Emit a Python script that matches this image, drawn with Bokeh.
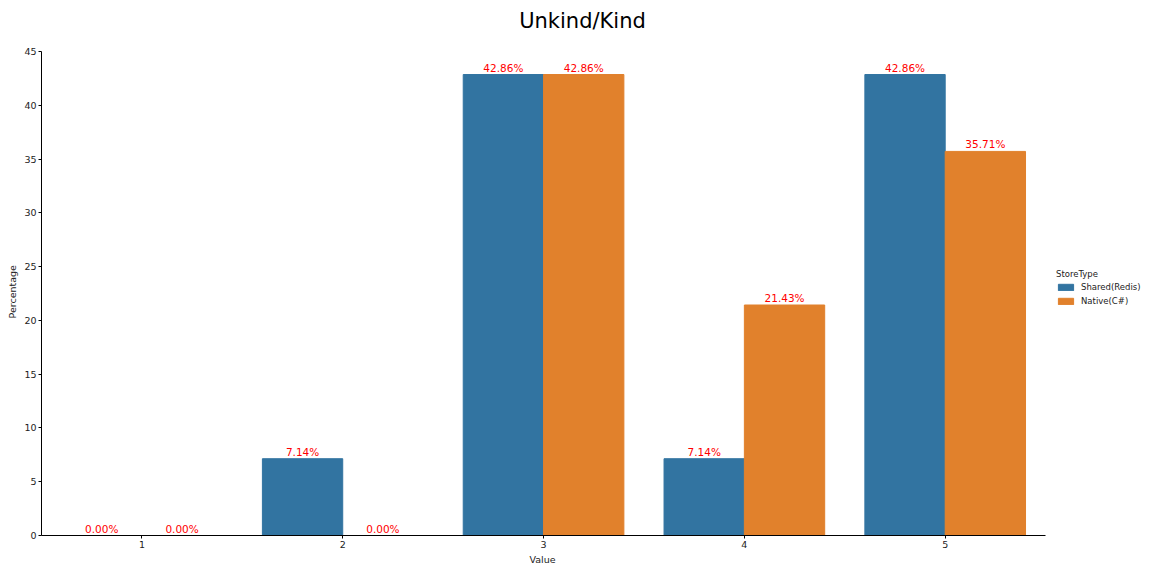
from bokeh.plotting import figure
from bokeh.models import (ColumnDataSource, Range1d, Legend, LegendItem,
                          FixedTicker, Label, Title)
from bokeh.core.properties import value
from bokeh.transform import dodge
from bokeh.embed import file_html
from bokeh.resources import INLINE

# Category values and percentages per store type
values = ["1", "2", "3", "4", "5"]
shared_redis = [0.00, 7.14, 42.86, 7.14, 42.86]
native_cs = [0.00, 0.00, 42.86, 21.43, 35.71]
y_ticks = [0, 5, 10, 15, 20, 25, 30, 35, 40, 45]

BLUE = "#3274a1"
ORANGE = "#e1812c"
FONT = "DejaVu Sans"
TEXT = "#222222"

# canvas layout: the plotting frame runs to the top and right edges so that
# the title and the legend (both annotations) can be drawn inside it; the
# visible axes are limited with `bounds`.
W, H = 1156, 565
LEFT, BOTTOM = 40, 30
AXES_W, AXES_H = 1005, 484           # pixel size of the drawn axes box
frame_w, frame_h = W - LEFT, H - BOTTOM
n = len(values)
x_end = -0.5 + n * frame_w / AXES_W
y_end = y_ticks[-1] * frame_h / AXES_H

src = ColumnDataSource(dict(
    pos=list(range(n)),
    shared=shared_redis,
    native=native_cs,
    shared_lbl=[f"{v:.2f}%" for v in shared_redis],
    native_lbl=[f"{v:.2f}%" for v in native_cs],
))

p = figure(
    width=W, height=H,
    x_range=Range1d(-0.5, x_end),
    y_range=Range1d(0, y_end),
    output_backend="svg", toolbar_location=None,
    min_border_left=LEFT, min_border_right=0,
    min_border_top=0, min_border_bottom=BOTTOM,
    background_fill_color="white", border_fill_color="white",
    outline_line_color=None,
)

r1 = p.vbar(x=dodge("pos", -0.2), top="shared", width=0.4,
            source=src, fill_color=BLUE, line_color=BLUE, line_width=1)
r2 = p.vbar(x=dodge("pos", 0.2), top="native", width=0.4,
            source=src, fill_color=ORANGE, line_color=ORANGE, line_width=1)

# value labels on top of each bar
for col, off in (("shared", -0.2), ("native", 0.2)):
    p.text(x=dodge("pos", off), y=col, text=f"{col}_lbl",
           source=src, text_color="red", text_font=value(FONT),
           text_font_size="10.5px", text_align="center",
           text_baseline="bottom", y_offset=-1)

p.xgrid.visible = False
p.ygrid.visible = False

for ax in (p.xaxis[0], p.yaxis[0]):
    ax.axis_line_color = "black"
    ax.axis_line_width = 1
    ax.major_tick_line_color = "black"
    ax.major_tick_in = 0
    ax.major_tick_out = 3
    ax.minor_tick_line_color = None
    ax.major_label_text_font = FONT
    ax.major_label_text_font_size = "9.5px"
    ax.major_label_text_color = TEXT
    ax.major_label_standoff = 2

p.xaxis.ticker = FixedTicker(ticks=list(range(n)))
p.xaxis.major_label_overrides = {i: v for i, v in enumerate(values)}
p.xaxis.bounds = (-0.5, n - 0.5)
p.yaxis.ticker = FixedTicker(ticks=y_ticks)
p.yaxis.bounds = (y_ticks[0], y_ticks[-1])

# axis titles, centred on the drawn axes rather than on the whole frame
p.add_layout(Title(text="Value", align="left", offset=488, standoff=2,
                   text_font=FONT, text_font_size="9.5px",
                   text_font_style="normal", text_color=TEXT), "below")
p.add_layout(Title(text="Percentage", align="left", offset=217, standoff=8,
                   text_font=FONT, text_font_size="9.5px",
                   text_font_style="normal", text_color=TEXT), "left")

p.add_layout(Label(x=541, y=frame_h - 20, x_units="screen", y_units="screen",
                   text="Unkind/Kind", text_font=FONT, text_font_size="21px",
                   text_align="center", text_baseline="middle",
                   text_color="black"))

legend = Legend(
    items=[LegendItem(label="Shared(Redis)", renderers=[r1]),
           LegendItem(label="Native(C#)", renderers=[r2])],
    title="StoreType",
    location=(1015, 229),
    title_text_font=FONT, title_text_font_size="8.5px", title_text_font_style="normal",
    title_text_color=TEXT, title_standoff=3,
    label_text_font=FONT, label_text_font_size="8.5px", label_text_color=TEXT,
    glyph_width=19, glyph_height=8, label_height=10, label_standoff=6,
    spacing=4, padding=2, margin=0,
    border_line_color=None, background_fill_alpha=0,
)
p.add_layout(legend, "center")

open("out.html", "w").write(file_html(p, INLINE))
